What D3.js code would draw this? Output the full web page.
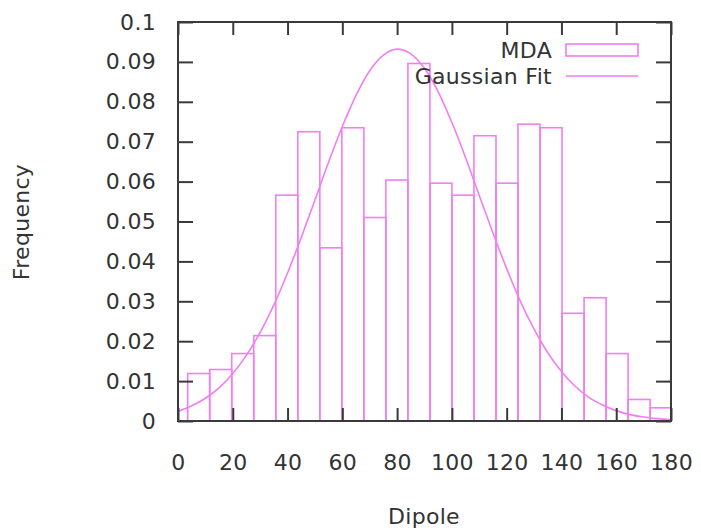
<!DOCTYPE html>
<html>
<head>
<meta charset="utf-8">
<script src="https://cdn.jsdelivr.net/npm/d3@7"></script>
<style>
  html, body { margin: 0; padding: 0; background: #fff; }
  svg { display: block; }
  text { font-family: "DejaVu Sans", sans-serif; fill: #333; }
</style>
</head>
<body>
<svg id="chart" width="701" height="531"></svg>
<script>
// ---- data ----
const binStart = 3.54;
const binWidth = 8.04;
const mdaFreq = [0.0119, 0.0129, 0.0169, 0.0214, 0.0566, 0.0725, 0.0434, 0.0735,
                 0.0510, 0.0604, 0.0896, 0.0596, 0.0566, 0.0715, 0.0596, 0.0744,
                 0.0735, 0.0270, 0.0309, 0.0169, 0.0054, 0.0033];
const fitX = [0, 5, 10, 15, 20, 25, 30, 35, 40, 45, 50, 55, 60, 65, 70, 75, 80, 85, 90,
              95, 100, 105, 110, 115, 120, 125, 130, 135, 140, 145, 150, 155, 160, 165,
              170, 175, 180];
const fitY = [0.0024, 0.0038, 0.0057, 0.0083, 0.0119, 0.0165, 0.0222, 0.0291, 0.0371,
              0.0460, 0.0554, 0.0649, 0.0738, 0.0816, 0.0878, 0.0917, 0.0932, 0.0920,
              0.0884, 0.0825, 0.0748, 0.0660, 0.0565, 0.0471, 0.0382, 0.0300, 0.0230,
              0.0171, 0.0124, 0.0087, 0.0059, 0.0040, 0.0026, 0.0016, 0.0010, 0.0006,
              0.0003];
const xTicks = [0, 20, 40, 60, 80, 100, 120, 140, 160, 180];
const yTicks = [0, 0.01, 0.02, 0.03, 0.04, 0.05, 0.06, 0.07, 0.08, 0.09, 0.1];
const seriesNames = ["MDA", "Gaussian Fit"];
const xLabel = "Dipole";
const yLabel = "Frequency";

// ---- layout ----
const L = 178, R = 671, T = 22, B = 421;
const pink = "#f27ef2";
const axisCol = "#3a3a3a";
const fs = 22;
const ls = "0.3px";

const svg = d3.select("#chart");
const x = d3.scaleLinear().domain([0, 180]).range([L, R]);
const y = d3.scaleLinear().domain([0, 0.1]).range([B, T]);

svg.append("defs").append("clipPath").attr("id", "clip")
  .append("rect").attr("x", L).attr("y", T).attr("width", R - L).attr("height", B - T);

const plot = svg.append("g").attr("clip-path", "url(#clip)");

// bars
plot.selectAll("rect.bar").data(mdaFreq).enter().append("rect")
  .attr("class", "bar")
  .attr("x", (d, i) => x(binStart + i * binWidth))
  .attr("width", (d, i) => x(binStart + (i + 1) * binWidth) - x(binStart + i * binWidth))
  .attr("y", d => y(d))
  .attr("height", d => y(0) - y(d))
  .attr("fill", "none")
  .attr("stroke", pink)
  .attr("stroke-width", 1.6);

// gaussian fit
const line = d3.line().x(d => x(d[0])).y(d => y(d[1])).curve(d3.curveMonotoneX);
plot.append("path")
  .datum(fitX.map((v, i) => [v, fitY[i]]))
  .attr("d", line)
  .attr("fill", "none")
  .attr("stroke", pink)
  .attr("stroke-width", 1.6);

// axes: ticks inward, mirrored on top/right
const fmtY = d => d === 0 ? "0" : String(+d.toFixed(2));
const axB = d3.axisBottom(x).tickValues(xTicks).tickSize(-13).tickPadding(33).tickFormat(d3.format("d"));
const axT = d3.axisTop(x).tickValues(xTicks).tickSize(-13).tickFormat("");
const axL = d3.axisLeft(y).tickValues(yTicks).tickSize(-15).tickPadding(22).tickFormat(fmtY);
const axR = d3.axisRight(y).tickValues(yTicks).tickSize(-15).tickFormat("");
function style(g) {
  g.select(".domain").remove();
  g.selectAll(".tick line").attr("stroke", axisCol).attr("stroke-width", 2);
  g.selectAll(".tick text").attr("fill", "#333")
    .style("font-family", "'DejaVu Sans', sans-serif")
    .style("font-size", fs + "px").style("letter-spacing", ls);
}
svg.append("g").attr("transform", `translate(0,${B})`).call(axB).call(style);
svg.append("g").attr("transform", `translate(0,${T})`).call(axT).call(style);
svg.append("g").attr("transform", `translate(${L},0)`).call(axL).call(style);
svg.append("g").attr("transform", `translate(${R},0)`).call(axR).call(style);

// border
svg.append("rect").attr("x", L).attr("y", T).attr("width", R - L).attr("height", B - T)
  .attr("fill", "none").attr("stroke", axisCol).attr("stroke-width", 2);

// axis labels
svg.append("text").attr("x", 424).attr("y", 524).attr("text-anchor", "middle")
  .style("font-size", fs + "px").style("letter-spacing", ls).text(xLabel);
svg.append("text").attr("transform", "translate(29,222) rotate(-90)").attr("text-anchor", "middle")
  .style("font-size", fs + "px").style("letter-spacing", ls).text(yLabel);

// legend
const lg = svg.append("g");
lg.append("text").attr("x", 552).attr("y", 57.5).attr("text-anchor", "end")
  .style("font-size", fs + "px").style("letter-spacing", ls).text(seriesNames[0]);
lg.append("rect").attr("x", 566).attr("y", 44).attr("width", 72).attr("height", 12)
  .attr("fill", "none").attr("stroke", pink).attr("stroke-width", 1.6);
lg.append("text").attr("x", 552).attr("y", 84).attr("text-anchor", "end")
  .style("font-size", fs + "px").style("letter-spacing", ls).text(seriesNames[1]);
lg.append("line").attr("x1", 566).attr("x2", 638).attr("y1", 76).attr("y2", 76)
  .attr("stroke", pink).attr("stroke-width", 1.6);
</script>
</body>
</html>
